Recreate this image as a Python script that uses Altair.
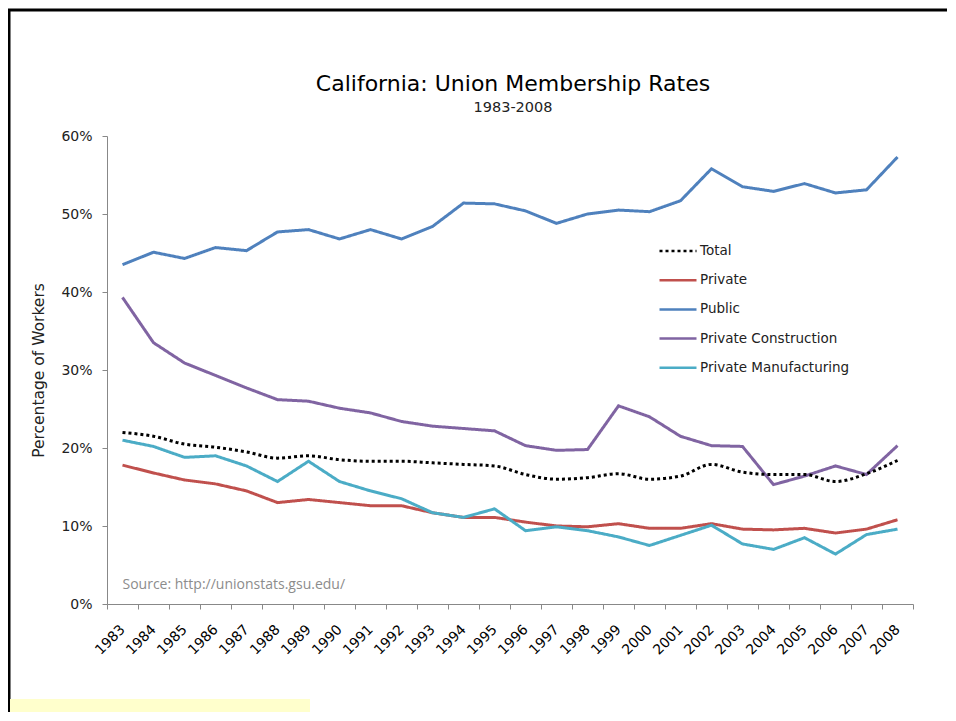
import altair as alt
import pandas as pd

years = [str(y) for y in range(1983, 2009)]

total = [22.0, 21.5, 20.5, 20.1, 19.5, 18.7, 19.0, 18.5, 18.3, 18.3, 18.1, 17.9, 17.7,
         16.6, 16.0, 16.2, 16.7, 16.0, 16.4, 17.9, 16.9, 16.6, 16.6, 15.7, 16.7, 18.4]
private = [17.8, 16.8, 15.9, 15.4, 14.5, 13.0, 13.4, 13.0, 12.6, 12.6, 11.7, 11.1, 11.1,
           10.5, 10.0, 9.9, 10.3, 9.7, 9.7, 10.3, 9.6, 9.5, 9.7, 9.1, 9.6, 10.8]
public = [43.5, 45.1, 44.3, 45.7, 45.3, 47.7, 48.0, 46.8, 48.0, 46.8, 48.4, 51.4, 51.3,
          50.4, 48.8, 50.0, 50.5, 50.3, 51.7, 55.8, 53.5, 52.9, 53.9, 52.7, 53.1, 57.3]
construction = [39.3, 33.5, 30.9, 29.3, 27.7, 26.2, 26.0, 25.1, 24.5, 23.4, 22.8, 22.5, 22.2,
                20.3, 19.7, 19.8, 25.4, 24.0, 21.5, 20.3, 20.2, 15.3, 16.4, 17.7, 16.6, 20.3]
manufacturing = [21.0, 20.2, 18.8, 19.0, 17.7, 15.7, 18.3, 15.7, 14.5, 13.5, 11.7, 11.1, 12.2,
                 9.4, 9.9, 9.4, 8.6, 7.5, 8.8, 10.1, 7.7, 7.0, 8.5, 6.4, 8.9, 9.6]

series_names = ["Total", "Private", "Public", "Private Construction", "Private Manufacturing"]
series_values = [total, private, public, construction, manufacturing]
colors = ["#000000", "#C0504D", "#4F81BD", "#8064A2", "#4BACC6"]
dashes = [[3, 3], [1, 0], [1, 0], [1, 0], [1, 0]]

title_text = "California: Union Membership Rates"
subtitle_text = "1983-2008"
source_note = "Source: http://unionstats.gsu.edu/"

rows = []
for name, vals in zip(series_names, series_values):
    for yr, v in zip(years, vals):
        rows.append({"Year": yr, "Series": name, "Rate": v / 100.0})
df = pd.DataFrame(rows)

FONT = "DejaVu Sans"

x_enc = alt.X("Year:O", sort=years,
              scale=alt.Scale(paddingInner=0, paddingOuter=0),
              axis=alt.Axis(title=None, labelAngle=-45, labelAlign="right", labelBaseline="middle",
                            labelPadding=18, labelFontSize=14, labelFont=FONT, labelColor="#000000",
                            tickBand="extent", tickSize=5, tickColor="#888888", domainColor="#888888",
                            labelOverlap=False))
y_enc = alt.Y("Rate:Q", scale=alt.Scale(domain=[0, 0.6]),
              axis=alt.Axis(title="Percentage of Workers", format=".0%", values=[0, 0.1, 0.2, 0.3, 0.4, 0.5, 0.6],
                            grid=False, tickSize=5, tickColor="#888888", domainColor="#888888",
                            labelFontSize=14, labelFont=FONT, labelColor="#222222", labelPadding=10,
                            titleFont=FONT, titleFontSize=15.5, titleFontWeight="normal",
                            titleColor="#222222", titlePadding=14))

color_enc = alt.Color("Series:N", scale=alt.Scale(domain=series_names, range=colors),
                      legend=alt.Legend(title=None, orient="none", legendX=551, legendY=95,
                                        symbolType="stroke", symbolSize=1369, symbolStrokeWidth=2.5,
                                        labelFont=FONT, labelFontSize=13.5, labelColor="#222222",
                                        rowPadding=2.2, labelOffset=2))
dash_enc = alt.StrokeDash("Series:N", scale=alt.Scale(domain=series_names, range=dashes), legend=None)

base = alt.Chart(df)

others = base.transform_filter(alt.datum.Series != "Total").mark_line(strokeWidth=3).encode(
    x=x_enc, y=y_enc, color=color_enc, strokeDash=dash_enc, detail="Series:N")

tot = base.transform_filter(alt.datum.Series == "Total").mark_line(
    strokeWidth=3, interpolate="monotone").encode(
    x=x_enc, y=y_enc, color=color_enc, strokeDash=dash_enc)

note_df = pd.DataFrame({"Year": [years[0]], "Rate": [0.024], "Text": [source_note]})
note = alt.Chart(note_df).mark_text(align="left", baseline="middle", font="Open Sans",
                                    fontSize=14, color="#8C8C8C").encode(
    x=alt.X("Year:O", sort=years), y=alt.Y("Rate:Q"), text="Text:N")

title_mark = alt.Chart(note_df).mark_text(align="center", baseline="alphabetic", font=FONT,
                                          fontSize=22, color="#000000").encode(
    x=alt.value(406), y=alt.value(-45), text=alt.value(title_text))
subtitle_mark = alt.Chart(note_df).mark_text(align="center", baseline="alphabetic", font=FONT,
                                             fontSize=14.5, color="#222222").encode(
    x=alt.value(406), y=alt.value(-24), text=alt.value(subtitle_text))

frame_top = alt.Chart(note_df).mark_rule(color="black", strokeWidth=3).encode(
    x=alt.value(-99), x2=alt.value(860), y=alt.value(-126))
frame_left = alt.Chart(note_df).mark_rule(color="black", strokeWidth=3).encode(
    x=alt.value(-98), y=alt.value(-127), y2=alt.value(590))
yellow = alt.Chart(note_df).mark_rect(color="#FFFFCC").encode(
    x=alt.value(-97), x2=alt.value(203), y=alt.value(563), y2=alt.value(590))

chart = alt.layer(others, tot, note, title_mark, subtitle_mark, frame_top, frame_left, yellow).properties(
    width=806, height=468,
    background="white",
    autosize=alt.AutoSizeParams(type="none"),
    padding={"left": 99, "top": 128, "right": 34, "bottom": 108},
).configure_view(stroke=None)

chart.save("out.html", embed_options={"renderer": "svg", "actions": False})
